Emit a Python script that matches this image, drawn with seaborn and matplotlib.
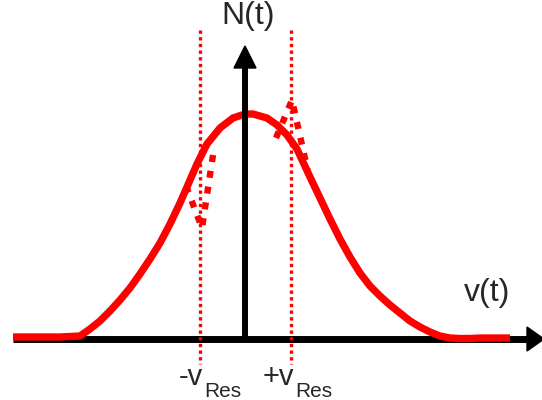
import matplotlib
matplotlib.use("Agg")
import matplotlib.pyplot as plt
from matplotlib.patches import Polygon
import seaborn as sns
import pandas as pd

sns.set_style("white")
plt.rcParams['font.family'] = ['Liberation Sans', 'DejaVu Sans']

# ---- data (pixel-like diagram units, y grows downward) ----
curve_x = [13, 60, 80, 90, 100, 110, 120, 130, 140, 150, 160, 170, 180, 187, 197,
           207, 220, 233, 245, 253, 267, 277, 287, 297, 310, 320, 330, 340, 350,
           360, 370, 380, 390, 400, 410, 420, 430, 440, 450, 460, 470, 480, 510]
curve_y = [337, 337, 336, 329, 321, 311, 300, 288, 274, 259, 243, 224, 203, 187, 164,
           144, 128, 118, 114, 114, 118, 125, 135, 149, 177, 198, 219, 239, 257,
           273, 286, 296, 305, 313, 321, 327, 332, 336, 338, 338.5, 338.5, 338, 338]

left_loop_x = [213, 202, 186]
left_loop_y = [155, 228, 186]
right_loop_x = [276, 292, 308]
right_loop_y = [138, 100, 172]

v_res_x = [200, 291]
v_res_labels = ["-v", "+v"]

RED = "#FF0000"

fig = plt.figure(figsize=(5.42, 4.0), dpi=100)
ax = fig.add_axes([0, 0, 1, 1])
ax.set_xlim(0, 542)
ax.set_ylim(400, 0)
ax.axis("off")

# horizontal axis
AX_Y = 339
ax.plot([13, 530], [AX_Y, AX_Y], color="black", lw=5, solid_capstyle="butt", zorder=1)
ax.add_patch(Polygon([[527, AX_Y - 12], [527, AX_Y + 12], [544, AX_Y]],
                     closed=True, color="black", zorder=1))

# main curve
df = pd.DataFrame({"x": curve_x, "y": curve_y})
sns.lineplot(data=df, x="x", y="y", sort=False, color=RED, lw=5.3, ax=ax, zorder=2,
             solid_joinstyle="round", solid_capstyle="butt")

# vertical axis
AX_X = 245
ax.plot([AX_X, AX_X], [AX_Y, 66], color="black", lw=4.3, solid_capstyle="butt", zorder=3)
ax.add_patch(Polygon([[AX_X - 11, 68], [AX_X + 11, 68], [AX_X, 46]],
                     closed=True, color="black", zorder=3))

# dotted resonance lines
for xv in v_res_x:
    ax.plot([xv, xv], [30, 364], color=RED, lw=2.4, linestyle=(0, (1, 1)), zorder=4)

# dotted loops
for lx, ly in [(left_loop_x, left_loop_y), (right_loop_x, right_loop_y)]:
    sns.lineplot(x=lx, y=ly, sort=False, color=RED, lw=4.6, ax=ax, zorder=4,
                 linestyle=(0, (1.1, 1.4)), dash_capstyle="butt")

# labels
ax.text(AX_X + 3, 1, "N(t)", fontsize=23, ha="center", va="top")
ax.text(487, 301, "v(t)", fontsize=23, ha="center", va="baseline")
for xv, lab in zip(v_res_x, v_res_labels):
    ax.text(xv + 3, 385, lab, fontsize=21, ha="right", va="baseline")
    ax.text(xv + 4, 397, "Res", fontsize=15, ha="left", va="baseline")

fig.savefig("out.png", dpi=100)
